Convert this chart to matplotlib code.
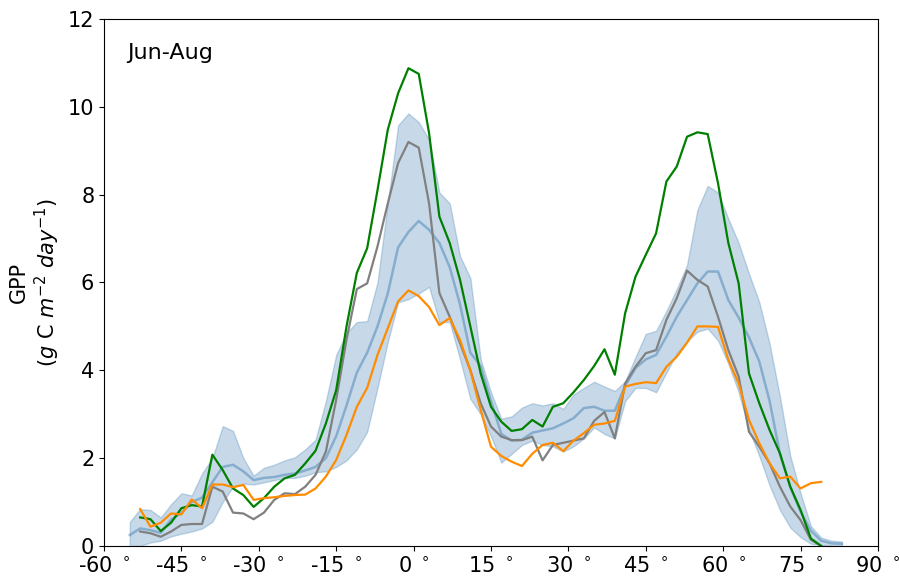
import numpy as np
import matplotlib
matplotlib.use("Agg")
import matplotlib.pyplot as plt

# latitude grid (degrees), 2 degree bins
lat_band = np.arange(-55, 84, 2)
lat_lines = np.arange(-53, 80, 2)

# ensemble spread (lower / upper) and ensemble mean
band_upper = [0.55, 0.84, 0.82, 0.65, 0.95, 1.2, 1.15, 1.65, 2.0, 2.73,
              2.62, 2.0, 1.6, 1.78, 1.85, 1.95, 2.02, 2.2, 2.42, 3.3,
              4.35, 4.85, 5.1, 5.12, 6.0, 7.8, 9.58, 9.85, 9.65, 9.25,
              8.05, 7.8, 6.6, 6.1, 4.25, 3.5, 2.9, 2.95, 3.15, 3.25,
              3.2, 3.25, 3.12, 3.45, 3.6, 3.74, 3.63, 3.53, 3.75, 4.3,
              4.83, 4.9, 5.35, 5.85, 6.4, 7.65, 8.2, 8.05, 7.45, 6.9,
              6.2, 5.55, 4.6, 3.4, 2.05, 1.2, 0.45, 0.19, 0.12, 0.1]
band_lower = [0.0, 0.0, 0.08, 0.12, 0.22, 0.28, 0.33, 0.4, 0.55, 1.0,
              1.35, 1.42, 1.4, 1.45, 1.5, 1.55, 1.55, 1.6, 1.68, 1.7,
              1.8, 1.95, 2.2, 2.6, 3.6, 4.65, 5.55, 5.62, 5.75, 5.9,
              5.1, 5.1, 4.25, 3.35, 3.0, 2.5, 1.9, 2.1, 2.3, 2.4,
              2.3, 2.27, 2.15, 2.27, 2.45, 2.7, 2.55, 2.45, 3.3, 3.6,
              3.6, 3.5, 3.95, 4.39, 4.66, 4.88, 4.95, 4.68, 4.15, 3.5,
              2.65, 2.05, 1.38, 0.82, 0.42, 0.2, 0.05, 0.02, 0.0, 0.0]
band_mean = [0.25, 0.4, 0.36, 0.3, 0.6, 0.75, 1.0, 1.1, 1.45, 1.8,
             1.85, 1.7, 1.5, 1.55, 1.57, 1.62, 1.65, 1.72, 1.8, 2.0,
             2.5, 3.2, 3.95, 4.4, 5.0, 5.75, 6.8, 7.15, 7.4, 7.2,
             6.9, 6.35, 5.5, 4.4, 4.1, 3.3, 2.55, 2.4, 2.42, 2.58,
             2.63, 2.68, 2.79, 2.91, 3.14, 3.17, 3.08, 3.08, 3.65, 4.05,
             4.25, 4.35, 4.77, 5.22, 5.6, 5.98, 6.25, 6.25, 5.6, 5.2,
             4.75, 4.2, 3.3, 2.1, 1.35, 0.78, 0.35, 0.12, 0.06, 0.05]

# reference products
gpp_green = [0.65, 0.61, 0.34, 0.53, 0.86, 0.93, 0.9, 2.08, 1.73, 1.31,
             1.16, 0.89, 1.09, 1.35, 1.54, 1.62, 1.88, 2.17, 2.79, 3.55,
             5.0, 6.22, 6.78, 8.1, 9.48, 10.31, 10.88, 10.75, 9.4, 7.5,
             6.9, 6.06, 5.0, 3.93, 3.17, 2.83, 2.62, 2.66, 2.87, 2.72,
             3.17, 3.25, 3.5, 3.78, 4.1, 4.48, 3.9, 5.3, 6.13, 6.63,
             7.12, 8.3, 8.64, 9.32, 9.42, 9.38, 8.26, 6.9, 5.98, 3.93,
             3.25, 2.64, 2.11, 1.35, 0.82, 0.17, 0.0]
gpp_gray = [0.33, 0.29, 0.21, 0.33, 0.48, 0.5, 0.5, 1.35, 1.24, 0.76,
            0.74, 0.61, 0.76, 1.05, 1.2, 1.18, 1.35, 1.62, 2.15, 3.33,
            4.7, 5.85, 5.98, 6.82, 7.8, 8.72, 9.2, 9.07, 7.8, 5.76,
            5.22, 4.62, 4.0, 3.25, 2.72, 2.49, 2.41, 2.41, 2.49, 1.95,
            2.3, 2.35, 2.4, 2.45, 2.85, 3.05, 2.45, 3.7, 4.08, 4.39,
            4.46, 5.15, 5.64, 6.27, 6.06, 5.91, 5.22, 4.46, 3.86, 2.6,
            2.26, 1.88, 1.35, 0.9, 0.59, 0.14, 0.0]
gpp_orange = [0.84, 0.44, 0.53, 0.74, 0.72, 1.06, 0.86, 1.4, 1.4, 1.34,
              1.39, 1.05, 1.09, 1.11, 1.14, 1.16, 1.17, 1.31, 1.58, 1.96,
              2.53, 3.17, 3.6, 4.35, 4.96, 5.57, 5.82, 5.69, 5.44, 5.03,
              5.19, 4.69, 4.0, 3.1, 2.26, 2.05, 1.92, 1.82, 2.1, 2.3,
              2.35, 2.16, 2.4, 2.57, 2.76, 2.79, 2.85, 3.63, 3.69, 3.73,
              3.71, 4.08, 4.31, 4.63, 5.0, 5.0, 4.99, 4.24, 3.7, 2.87,
              2.34, 1.88, 1.54, 1.58, 1.31, 1.43, 1.46]

xticks = np.arange(-60, 91, 15)
xtick_labels = [f"{t} $^\\circ$" for t in xticks]

fig = plt.figure(figsize=(8.99, 5.78), dpi=100)
ax = fig.add_axes([0.1157, 0.0554, 0.8609, 0.9117])

ax.fill_between(lat_band, band_lower, band_upper, color='steelblue', alpha=0.3)
ax.plot(lat_band, band_mean, color='steelblue', alpha=0.5, lw=1.8)
ax.plot(lat_lines, gpp_gray, color='gray', lw=1.6)
ax.plot(lat_lines, gpp_green, color='green', lw=1.6)
ax.plot(lat_lines, gpp_orange, color='darkorange', lw=1.6)

ax.set_xlim(-60, 90)
ax.set_ylim(0, 12)
ax.set_xticks(xticks)
ax.set_xticklabels(xtick_labels)
ax.tick_params(labelsize=15)
ax.set_ylabel("GPP\n($g$ C $m^{-2}$ $day^{-1}$)", fontsize=15)
ax.text(0.03, 0.955, "Jun-Aug", transform=ax.transAxes, fontsize=16,
        va='top', ha='left')

fig.savefig("out.png", dpi=100)
